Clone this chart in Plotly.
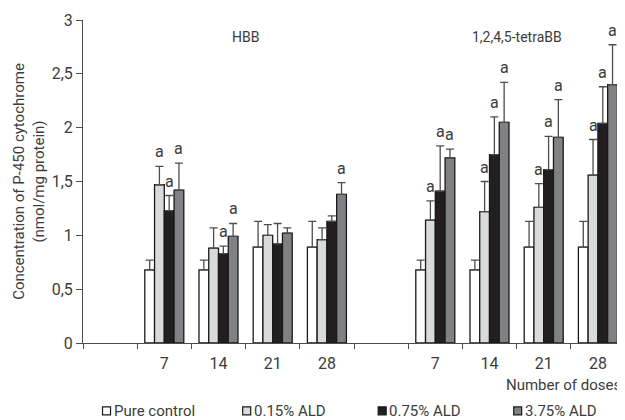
import plotly.graph_objects as go

# ---- data ----
group_names = ["HBB", "1,2,4,5-tetraBB"]
doses = ["7", "14", "21", "28"]
series_names = ["Pure control", "0.15% ALD", "0.75% ALD", "3.75% ALD"]
series_colors = ["#ffffff", "#d9dadb", "#231f20", "#808184"]

hbb_control = [0.68, 0.68, 0.89, 0.89]
hbb_015 = [1.47, 0.88, 1.00, 0.96]
hbb_075 = [1.23, 0.83, 0.92, 1.13]
hbb_375 = [1.42, 0.99, 1.02, 1.38]

hbb_control_err = [0.09, 0.09, 0.24, 0.24]
hbb_015_err = [0.17, 0.19, 0.10, 0.11]
hbb_075_err = [0.14, 0.07, 0.19, 0.05]
hbb_375_err = [0.25, 0.12, 0.05, 0.11]

tetra_control = [0.68, 0.68, 0.89, 0.89]
tetra_015 = [1.14, 1.22, 1.26, 1.56]
tetra_075 = [1.41, 1.75, 1.61, 2.04]
tetra_375 = [1.72, 2.05, 1.91, 2.40]

tetra_control_err = [0.09, 0.09, 0.24, 0.24]
tetra_015_err = [0.18, 0.28, 0.22, 0.33]
tetra_075_err = [0.42, 0.35, 0.31, 0.34]
tetra_375_err = [0.08, 0.37, 0.35, 0.37]

# significance marks "a"
hbb_sig = [[0, 0, 0, 0], [1, 0, 0, 0], [1, 1, 0, 0], [1, 1, 0, 1]]
tetra_sig = [[0, 0, 0, 0], [1, 1, 1, 1], [1, 1, 1, 1], [1, 1, 1, 1]]

y_tickvals = [0, 0.5, 1, 1.5, 2, 2.5, 3]
y_ticktext = ["0", "0,5", "1", "1,5", "2", "2,5", "3"]

# ---- layout helpers ----
FONT = "Roboto, Liberation Sans, sans-serif"
TXT = "#3c3c3c"
hbb_slots = [1, 2, 3, 4]
tetra_slots = [6, 7, 8, 9]
xs = hbb_slots + tetra_slots

vals = [hbb_control + tetra_control, hbb_015 + tetra_015,
        hbb_075 + tetra_075, hbb_375 + tetra_375]
errs = [hbb_control_err + tetra_control_err, hbb_015_err + tetra_015_err,
        hbb_075_err + tetra_075_err, hbb_375_err + tetra_375_err]
sigs = [hbb_sig[i] + tetra_sig[i] for i in range(4)]

BARGAP = 0.28
fig = go.Figure()
for i in range(4):
    fig.add_trace(go.Bar(
        x=xs, y=vals[i], name=series_names[i], showlegend=False,
        marker=dict(color=series_colors[i], line=dict(color="#1a1a1a", width=1.3)),
        error_y=dict(type="data", array=errs[i], arrayminus=[0] * len(xs),
                     symmetric=False, color="#4d4d4d", thickness=1.3, width=4),
    ))

bw = (1 - BARGAP) / 4
annotations = []
shapes = []
for i in range(4):
    off = (i - 1.5) * bw
    for j, x in enumerate(xs):
        if sigs[i][j]:
            annotations.append(dict(
                x=x + off, y=vals[i][j] + errs[i][j], xref="x", yref="y",
                text="a", showarrow=False, yanchor="bottom", xanchor="center",
                yshift=3, font=dict(family=FONT, size=16, color=TXT)))

annotations.append(dict(x=sum(hbb_slots) / 4, y=2.84, xref="x", yref="y",
                        text=group_names[0], showarrow=False,
                        font=dict(family=FONT, size=14, color=TXT)))
annotations.append(dict(x=sum(tetra_slots) / 4, y=2.84, xref="x", yref="y",
                        text=group_names[1], showarrow=False,
                        font=dict(family=FONT, size=14, color=TXT)))
annotations.append(dict(x=1, y=-0.13, xref="paper", yref="paper",
                        text="Number of doses", showarrow=False,
                        xanchor="right", yanchor="middle", xshift=-2,
                        font=dict(family=FONT, size=15, color=TXT)))

# legend drawn as key squares + labels below the plot (paper coordinates)
legend_x = [0.0434, 0.302, 0.552, 0.802]
legend_y = -0.21
for i in range(4):
    shapes.append(dict(type="rect", xref="paper", yref="paper",
                       xsizemode="pixel", ysizemode="pixel",
                       xanchor=legend_x[i], yanchor=legend_y,
                       x0=-4, x1=4, y0=-4, y1=4,
                       fillcolor=series_colors[i],
                       line=dict(color="#1a1a1a", width=1.2)))
    annotations.append(dict(x=legend_x[i], y=legend_y, xref="paper", yref="paper",
                            text=series_names[i], showarrow=False,
                            xanchor="left", yanchor="middle", xshift=5,
                            font=dict(family=FONT, size=15, color=TXT)))

# page body has an 8px margin, so the figure is 8px smaller than the window
fig.update_layout(
    width=617, height=412,
    margin=dict(l=75, r=0, t=12, b=77),
    paper_bgcolor="white", plot_bgcolor="white",
    barmode="group", bargap=BARGAP, bargroupgap=0,
    font=dict(family=FONT, size=15, color=TXT),
    showlegend=False,
    annotations=annotations,
    shapes=shapes,
)
fig.update_xaxes(
    range=[-0.5, 9.5], tickvals=xs, ticktext=doses + doses,
    ticks="", showgrid=False, zeroline=False,
    showline=True, linecolor="#4d4d4d", linewidth=1,
    tickfont=dict(family=FONT, size=16, color=TXT), ticklabelstandoff=6,
    minor=dict(tick0=0.5, dtick=1, ticks="outside", ticklen=5,
               tickcolor="#4d4d4d", showgrid=False),
)
fig.update_yaxes(
    range=[0, 3], tickvals=y_tickvals, ticktext=y_ticktext,
    ticks="outside", ticklen=6, tickcolor="#4d4d4d",
    showgrid=False, zeroline=False,
    showline=True, linecolor="#4d4d4d", linewidth=1,
    tickfont=dict(family=FONT, size=16, color=TXT),
    title=dict(text="Concentration of P-450 cytochrome<br>(nmol/mg protein)",
               font=dict(family=FONT, size=15, color=TXT), standoff=3),
)

fig.write_html("out.html")
